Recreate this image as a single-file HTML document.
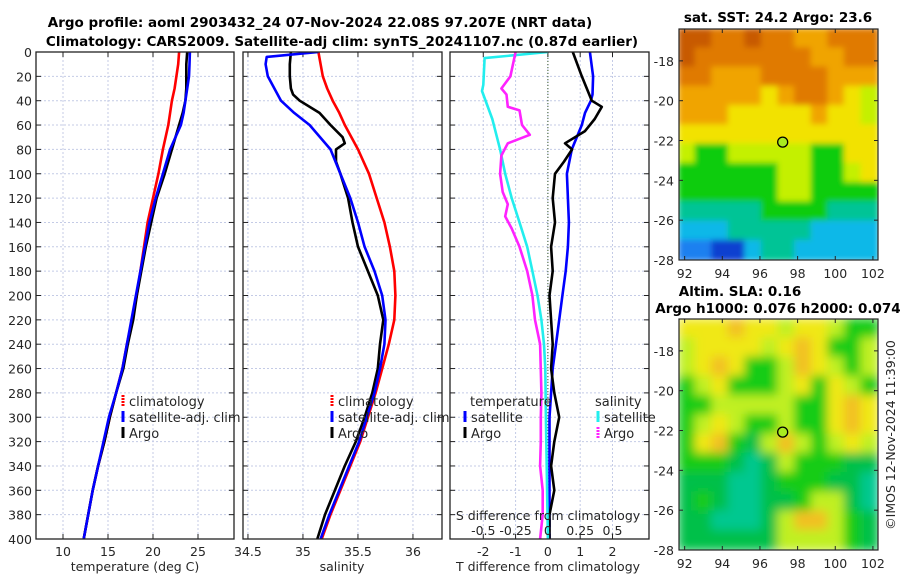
<!DOCTYPE html>
<html><head><meta charset="utf-8">
<style>
html,body{margin:0;padding:0;background:#fff;}
svg{display:block;font-family:"DejaVu Sans","Liberation Sans",sans-serif;}
.tk{font-size:12.5px;fill:#262626;}
.ttl{font-size:13.5px;font-weight:bold;fill:#000;}
.lg{font-size:13px;fill:#262626;}
</style></head>
<body>
<svg id="fig" width="900" height="580" viewBox="0 0 900 580">
<defs><filter id="blur" x="0" y="0" width="1" height="1"><feGaussianBlur stdDeviation="5"/></filter>
<filter id="blur2" x="0" y="0" width="1" height="1"><feGaussianBlur stdDeviation="3"/></filter>
<clipPath id="cp1"><rect x="36" y="52" width="198" height="487"/></clipPath>
<clipPath id="cp2"><rect x="243" y="52" width="199" height="487"/></clipPath>
<clipPath id="cp3"><rect x="450" y="52" width="199" height="487"/></clipPath>
<clipPath id="cpm1"><rect x="679" y="29" width="199" height="231"/></clipPath>
<clipPath id="cpm2"><rect x="679" y="319" width="199" height="231"/></clipPath>
</defs>
<text class="ttl" x="320" y="27" text-anchor="middle">Argo profile: aoml 2903432_24 07-Nov-2024 22.08S 97.207E (NRT data)</text>
<text class="ttl" x="342" y="46" text-anchor="middle">Climatology: CARS2009. Satellite-adj clim: synTS_20241107.nc (0.87d earlier)</text>
<g id="p1"></g>
<g id="p2"></g>
<g id="p3"></g>
<g id="m1"></g>
<g id="m2"></g>
<text class="ttl" x="778" y="22" text-anchor="middle">sat. SST: 24.2 Argo: 23.6</text>
<text class="ttl" x="740" y="296" text-anchor="middle">Altim. SLA: 0.16</text>
<text class="ttl" x="778" y="313" text-anchor="middle">Argo h1000: 0.076 h2000: 0.074</text>
<text class="tk" x="0" y="0" transform="translate(895,435) rotate(-90)" text-anchor="middle" font-size="13">©IMOS 12-Nov-2024 11:39:00</text>
</svg>
<script>
const NS="http://www.w3.org/2000/svg";
// ---- data ----
const depths=[0,10,20,30,40,50,60,80,100,120,140,160,180,200,220,240,260,280,300,320,340,360,380,400];
const tempArgo=[23.8,23.7,23.7,23.7,23.6,23.3,22.9,22.1,21.3,20.4,19.8,19.2,18.7,18.2,17.8,17.2,16.7,15.9,15.2,14.6,13.9,13.3,12.8,12.3];
const tempSat=[24.1,24.05,24.0,23.8,23.6,23.4,23.1,21.9,21.1,20.3,19.6,19.1,18.6,18.1,17.6,17.1,16.6,15.9,15.1,14.5,13.9,13.3,12.8,12.3];
const tempClim=[22.9,22.8,22.6,22.4,22.1,21.9,21.7,21.1,20.6,20.0,19.4,19.0,18.6,18.2,17.7,17.1,16.6,15.9,15.2,14.6,13.9,13.3,12.8,12.3];
const salClim=[35.14,35.16,35.18,35.22,35.27,35.33,35.38,35.50,35.60,35.67,35.74,35.79,35.83,35.84,35.83,35.78,35.72,35.66,35.59,35.52,35.43,35.34,35.25,35.17];
const salSatDepths=[0,4,10,20,30,40,50,60,80,100,120,140,160,180,200,220,240,260,280,300,320,340,360,380,400];
const salSat=[35.14,34.67,34.66,34.68,34.74,34.80,34.92,35.06,35.25,35.34,35.43,35.50,35.56,35.65,35.72,35.75,35.74,35.70,35.65,35.58,35.51,35.42,35.33,35.24,35.16];
const salArgoDepths=[0,10,20,30,35,40,50,60,70,75,80,90,100,120,140,160,180,200,220,240,260,280,300,320,340,360,380,400];
const salArgo=[34.89,34.88,34.88,34.89,34.91,34.97,35.15,35.25,35.36,35.38,35.30,35.30,35.34,35.41,35.45,35.50,35.59,35.68,35.73,35.70,35.68,35.63,35.56,35.48,35.38,35.29,35.20,35.13];
const dTArgoDepths=[0,20,40,45,55,65,75,80,90,100,120,140,160,180,200,220,240,260,280,300,320,340,360,380,400];
const dTArgo=[0.77,1.05,1.36,1.67,1.45,1.15,0.53,0.75,0.5,0.22,0.15,0.22,0.1,0.15,0.05,0.1,0.15,0.1,0.2,0.35,0.2,0.1,0.2,0.05,0.05];
const dTSatDepths=[0,20,35,40,50,60,80,100,120,140,160,180,200,220,240,260,280,300,340,400];
const dTSat=[1.3,1.4,1.38,1.33,1.15,1.05,0.74,0.59,0.62,0.65,0.62,0.55,0.45,0.35,0.25,0.15,0.1,0.05,0.05,0.05];
const dSSatDepths=[0,5,27,32,55,80,100,120,140,160,180,200,220,240,260,300,400];
const dSSat=[0.0,-0.49,-0.50,-0.51,-0.43,-0.37,-0.33,-0.28,-0.22,-0.16,-0.12,-0.08,-0.05,-0.03,-0.02,-0.015,0.0];
const dSArgoDepths=[0,20,30,35,45,48,60,68,75,85,100,115,125,135,145,160,180,200,220,240,280,300,320,340,360,380,400];
const dSArgo=[-0.25,-0.29,-0.36,-0.32,-0.31,-0.22,-0.2,-0.14,-0.31,-0.36,-0.37,-0.35,-0.31,-0.33,-0.28,-0.22,-0.16,-0.12,-0.1,-0.06,-0.05,-0.055,-0.055,-0.06,-0.04,-0.04,-0.06];
const depthTicks=[0,20,40,60,80,100,120,140,160,180,200,220,240,260,280,300,320,340,360,380,400];
const tempTicks=[10,15,20,25];
const salTicks=[34.5,35,35.5,36];
const salTickLabels=["34.5","35","35.5","36"];
const dTTicks=[-2,-1,0,1,2];
const dSTicks=[-0.5,-0.25,0,0.25,0.5];
const dSTickLabels=["-0.5","-0.25","0","0.25","0.5"];
const lonTicks=[92,94,96,98,100,102];
const latTicks=[-18,-20,-22,-24,-26,-28];
const argoLon=97.207, argoLat=-22.08;
const sstGrid=["BBOOBOOooOOO","BOOOOOOOooOO","OOoooOOOOooo","oooooYoOOoYy","oooYYYYYoYYy","YYYYYYYYYYYY","yGGyyyyyGGYY","GGGGGGyyGGyY","GGGGGGyyGGGG","TTTTTGGGGTTT","CCCTTTTTCCCC","LLDDCTTCCCCC"];
const slaGrid=["YYYoYYyYYyGG","yYYYYyYoYGGy","yYoYGGyoYyGy","GyYGGGyYGYyG","GGyyyyyGGYoY","GyYyGGyGGYoY","GYoGgyoyGyYy","GGGgTgyGGGgg","gggTTgGGGggT","gGgTTggGyygT","ggTTTgyooyGg","ggggggyyyyGg"];
const cmap={B:"#c85a00",O:"#e07a00",o:"#f0a400",Y:"#f2e200",y:"#c4f000",G:"#10cc10",g:"#00b848",T:"#00c496",C:"#10b8e8",L:"#1a80f0",D:"#1040d0"};
const cmap2={Y:"#f0e818",y:"#c0f020",o:"#f2c020",G:"#18cc18",g:"#00c048",T:"#00c890"};

function el(tag,attrs,parent){const e=document.createElementNS(NS,tag);for(const k in attrs)e.setAttribute(k,attrs[k]);parent.appendChild(e);return e;}
const TOP=52,BOT=539;
function yOf(d){return TOP+(d/400)*(BOT-TOP);}
function lin(d0,d1,r0,r1){return v=>r0+(v-d0)/(d1-d0)*(r1-r0);}

function frame(g,x0,x1,xs,xt,xtl,showY){
  for(const d of depthTicks){const y=yOf(d);
    const gl=el('line',{x1:x0,x2:x1,y1:y,y2:y,stroke:'#c4cbe6','stroke-width':1,'stroke-dasharray':'2,2'},g);
    
    const t1=el('line',{x1:x0,x2:x0+5,y1:y,y2:y,stroke:'#222'},g);
    const t2=el('line',{x1:x1-5,x2:x1,y1:y,y2:y,stroke:'#222'},g);
    if(showY){const t=el('text',{x:x0-4,y:y+5,'text-anchor':'end',class:'tk'},g);t.textContent=d;}
  }
  xt.forEach((v,i)=>{const x=xs(v);
    const gl=el('line',{x1:x,x2:x,y1:TOP,y2:BOT,stroke:'#c4cbe6','stroke-width':1,'stroke-dasharray':'2,2'},g);
    
    const tk=el('line',{x1:x,x2:x,y1:BOT,y2:BOT-5,stroke:'#222'},g);
    const tk2=el('line',{x1:x,x2:x,y1:TOP,y2:TOP+5,stroke:'#222'},g);
    const t=el('text',{x:x,y:BOT+17,'text-anchor':'middle',class:'tk'},g);t.textContent=xtl[i];
  });
}
function border(g,x0,x1){const r=el('rect',{x:x0,y:TOP,width:x1-x0,height:BOT-TOP,fill:'none',stroke:'#222','stroke-width':1.3},g);}
function line(g,xs,vals,ds,color,name,clip){
  const pts=vals.map((v,i)=>xs(v).toFixed(1)+','+yOf(ds[i]).toFixed(1)).join(' ');
  const p=el('polyline',{points:pts,fill:'none',stroke:color,'stroke-width':2.6,'stroke-linejoin':'round','clip-path':'url(#'+clip+')'},g);
  
}
function txt(g,x,y,s,name,cls,anchor){const t=el('text',{x:x,y:y,class:cls||'lg','text-anchor':anchor||'start'},g);t.textContent=s;return t;}
function mark(g,x,y,color,name,dash){const m=el('line',{x1:x,x2:x,y1:y-6,y2:y+5,stroke:color,'stroke-width':3,'stroke-dasharray':dash?'2,1':'none'},g);}

// panel 1
const g1=document.getElementById('p1');
const xT=lin(7,29,36,234);
frame(g1,36,234,xT,tempTicks,tempTicks.map(String),true);
line(g1,xT,tempClim,depths,'#ff0000','climatology-temp-line','cp1');
line(g1,xT,tempArgo,depths,'#000','argo-temp-line','cp1');
line(g1,xT,tempSat,depths,'#0000ff','satellite-temp-line','cp1');
border(g1,36,234);
txt(g1,135,571,'temperature (deg C)','x-axis-title','tk','middle').setAttribute('font-size','13.5');
mark(g1,123,401,'#ff0000','legend-mark-climatology',true);txt(g1,129,406,'climatology','legend-climatology');
mark(g1,123,417,'#0000ff','legend-mark-satellite');txt(g1,129,422,'satellite-adj. clim','legend-satellite');
mark(g1,123,433,'#000','legend-mark-argo');txt(g1,129,438,'Argo','legend-argo');

// panel 2
const g2=document.getElementById('p2');
const xS=lin(34.455,36.264,243,442);
frame(g2,243,442,xS,salTicks,salTickLabels,false);
line(g2,xS,salClim,depths,'#ff0000','climatology-salinity-line','cp2');
line(g2,xS,salArgo,salArgoDepths,'#000','argo-salinity-line','cp2');
line(g2,xS,salSat,salSatDepths,'#0000ff','satellite-salinity-line','cp2');
border(g2,243,442);
txt(g2,342,571,'salinity','x-axis-title','tk','middle').setAttribute('font-size','13.5');
mark(g2,332,401,'#ff0000','legend-mark-climatology',true);txt(g2,338,406,'climatology','legend-climatology');
mark(g2,332,417,'#0000ff','legend-mark-satellite');txt(g2,338,422,'satellite-adj. clim','legend-satellite');
mark(g2,332,433,'#000','legend-mark-argo');txt(g2,338,438,'Argo','legend-argo');

// panel 3
const g3=document.getElementById('p3');
const xD=lin(-3.03,3.13,450,649);
const xDS=v=>xD(v*4);
frame(g3,450,649,xD,dTTicks,dTTicks.map(String),false);
const zl=el('line',{x1:xD(0),x2:xD(0),y1:TOP,y2:BOT,stroke:'#3a5a2a','stroke-width':1,'stroke-dasharray':'1,2'},g3);

line(g3,xD,dTSat,dTSatDepths,'#0000ff','satellite-temp-diff-line','cp3');
line(g3,xD,dTArgo,dTArgoDepths,'#000','argo-temp-diff-line','cp3');
line(g3,xDS,dSSat,dSSatDepths,'#22eeee','satellite-salinity-diff-line','cp3');
line(g3,xDS,dSArgo,dSArgoDepths,'#ff22ff','argo-salinity-diff-line','cp3');
border(g3,450,649);
txt(g3,548,571,'T difference from climatology','x-axis-title','tk','middle').setAttribute('font-size','13.5');
txt(g3,548,520,'S difference from climatology','s-axis-title','tk','middle').setAttribute('font-size','13.5');
dSTicks.forEach((v,i)=>{txt(g3,xDS(v),535,dSTickLabels[i],'s-tick-label','tk','middle');});
txt(g3,470,406,'temperature','legend-temperature-heading');
mark(g3,465,417,'#0000ff','legend-mark-temp-satellite');txt(g3,471,422,'satellite','legend-temp-satellite');
mark(g3,465,433,'#000','legend-mark-temp-argo');txt(g3,471,438,'Argo','legend-temp-argo');
txt(g3,595,406,'salinity','legend-salinity-heading');
mark(g3,598,417,'#22eeee','legend-mark-sal-satellite');txt(g3,604,422,'satellite','legend-sal-satellite');
mark(g3,598,433,'#ff22ff','legend-mark-sal-argo',true);txt(g3,604,438,'Argo','legend-sal-argo');

// maps
function map(g,y0,y1,grid,cm,filt,clip){
  const x0=679,x1=878;
  const lonS=lin(91.7,102.27,x0,x1);
  const latS=lin(-16.4,-28,y0,y1);
  const rows=grid.length,cols=grid[0].length;
  const cw=(x1-x0)/cols,ch=(y1-y0)/rows;
  const cg=el('g',{'clip-path':'url(#'+clip+')'},g);
  const ig=el('g',{filter:'url(#'+filt+')'},cg);
  grid.forEach((row,r)=>{[...row].forEach((c,k)=>{
    const rc=el('rect',{x:(x0+k*cw-1).toFixed(1),y:(y0+r*ch-1).toFixed(1),width:(cw+2).toFixed(1),height:(ch+2).toFixed(1),fill:cm[c]},ig);
    
  });});
  const b=el('rect',{x:x0,y:y0,width:x1-x0,height:y1-y0,fill:'none',stroke:'#222','stroke-width':1.2},g);
  
  lonTicks.forEach(v=>{const x=lonS(v);
    const t=el('line',{x1:x,x2:x,y1:y1,y2:y1-4,stroke:'#222'},g);
    const t2=el('line',{x1:x,x2:x,y1:y0,y2:y0+4,stroke:'#222'},g);
    txt(g,x,y1+18,String(v),'lon-tick-label','tk','middle');});
  latTicks.forEach(v=>{const y=latS(v);
    const t=el('line',{x1:x0,x2:x0+4,y1:y,y2:y,stroke:'#222'},g);
    const t2=el('line',{x1:x1-4,x2:x1,y1:y,y2:y,stroke:'#222'},g);
    txt(g,x0-5,y+5,String(v),'lat-tick-label','tk','end');});
  const c=el('circle',{cx:lonS(argoLon),cy:latS(argoLat),r:5,fill:'#a8ec20',stroke:'#000','stroke-width':1.3},g);
  
}
map(document.getElementById('m1'),29,260,sstGrid,cmap,'blur2','cpm1');
map(document.getElementById('m2'),319,550,slaGrid,cmap2,'blur','cpm2');
</script>
</body></html>
